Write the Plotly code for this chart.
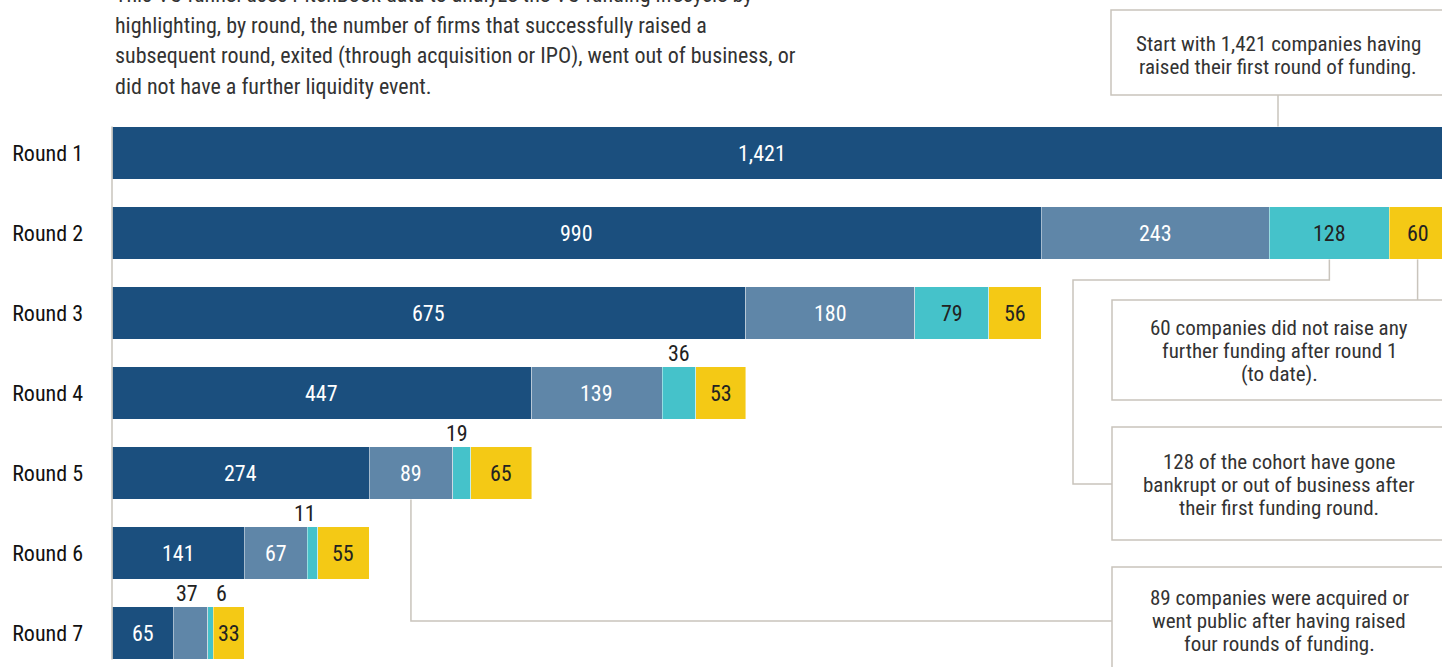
import plotly.graph_objects as go

# ---------------- data ----------------
rounds = ["Round 1", "Round 2", "Round 3", "Round 4", "Round 5", "Round 6", "Round 7"]
raised_next = [1421, 990, 675, 447, 274, 141, 65]
exited = [None, 243, 180, 139, 89, 67, 37]
out_of_business = [None, 128, 79, 36, 19, 11, 6]
no_further_event = [None, 60, 56, 53, 65, 55, 33]

title_lines = [
    "This VC funnel uses PitchBook data to analyze the VC funding lifecycle by",
    "highlighting, by round, the number of firms that successfully raised a",
    "subsequent round, exited (through acquisition or IPO), went out of business, or",
    "did not have a further liquidity event.",
]
callout_start = ["Start with 1,421 companies having", "raised their first round of funding."]
callout_60 = ["60 companies did not raise any", "further funding after round 1", "(to date)."]
callout_128 = ["128 of the cohort have gone", "bankrupt or out of business after", "their first funding round."]
callout_89 = ["89 companies were acquired or", "went public after having raised", "four rounds of funding."]

# ---------------- style / layout ----------------
W, H = 1442, 667
ML, MT = 112, 126
PW, PH = W - ML, H - MT
XMAX = 1417
Y_TOP, Y_BOT = -0.3375, 6.425
BAR_W = 0.66

FONT = "Liberation Sans Narrow, Roboto Condensed, DejaVu Sans Condensed, Arial Narrow, sans-serif"
C_DARK = "#1b4f7e"
C_STEEL = "#5f86a8"
C_TEAL = "#45c2ca"
C_YEL = "#f4c915"
C_LINE = "#c9c4bc"
C_TEXT = "#222222"

series = [
    ("raised", raised_next, C_DARK, "white"),
    ("exited", exited, C_STEEL, "white"),
    ("out", out_of_business, C_TEAL, C_TEXT),
    ("none", no_further_event, C_YEL, C_TEXT),
]
above = {(3, "out"): 0, (4, "out"): -5, (5, "out"): -7, (6, "exited"): -3, (6, "out"): 11}
inside_shift = {(0, "raised"): -17}

def px_x(px):
    return (px - ML) / PW

def px_y(py):
    return (H - py) / PH

def dx(v):
    return v / XMAX

def dy(v):
    return (Y_BOT - v) / (Y_BOT - Y_TOP)

ypos = list(range(len(rounds)))

fig = go.Figure()
for name, vals, col, tcol in series:
    fig.add_trace(go.Bar(
        y=ypos, x=[v if v else 0 for v in vals], orientation="h",
        marker=dict(color=col, line=dict(color="rgba(255,255,255,0.55)", width=0.8)),
        width=BAR_W, name=name, showlegend=False, hoverinfo="skip",
    ))

annotations = []
# value labels
cum = [0] * len(rounds)
for name, vals, col, tcol in series:
    for i, v in enumerate(vals):
        if not v:
            continue
        xc = cum[i] + v / 2
        cum[i] += v
        if (i, name) in above:
            annotations.append(dict(
                x=xc, y=i - BAR_W / 2, xref="x", yref="y", text=f"{v:,}",
                showarrow=False, yanchor="bottom", xanchor="center",
                xshift=above[(i, name)], yshift=-1,
                font=dict(family=FONT, size=22, color=C_TEXT)))
        else:
            annotations.append(dict(
                x=xc, y=i, xref="x", yref="y", text=f"{v:,}",
                showarrow=False, xanchor="center", yanchor="middle",
                xshift=inside_shift.get((i, name), 0),
                font=dict(family=FONT, size=22, color=tcol)))

# intro text, one line each (line pitch 31 px, last line centred at 87 px)
n = len(title_lines)
for k, t in enumerate(title_lines):
    cy = 87 - (n - 1 - k) * 31
    annotations.append(dict(
        x=px_x(113), y=px_y(cy), xref="paper", yref="paper",
        text=t, showarrow=False, align="left", xanchor="left", yanchor="middle",
        font=dict(family=FONT, size=22, color="#333333")))

shapes = []
line = dict(color=C_LINE, width=1.5)

# y axis line
shapes.append(dict(type="line", xref="paper", yref="paper",
                   x0=0, x1=0, y0=dy(0 - BAR_W / 2), y1=dy(6 + BAR_W / 2), line=line))

boxes = [
    (1111, 10, 95, 55.5, callout_start),
    (1112, 300, 400, 351, callout_60),
    (1112, 427, 540, 485, callout_128),
    (1112, 567, 690, 621, callout_89),
]
BOX_W = 334
PITCH = 23
for left, top, bot, tcy, lines in boxes:
    shapes.append(dict(type="rect", xref="paper", yref="paper",
                       x0=px_x(left), x1=px_x(left + BOX_W), y0=px_y(bot), y1=px_y(top),
                       line=line, fillcolor="rgba(0,0,0,0)", layer="above"))
    m = len(lines)
    for k, t in enumerate(lines):
        cy = tcy + (k - (m - 1) / 2) * PITCH
        annotations.append(dict(
            x=px_x(left + BOX_W / 2), y=px_y(cy), xref="paper", yref="paper",
            text=t, showarrow=False, align="center", xanchor="center", yanchor="middle",
            font=dict(family=FONT, size=21, color="#333333")))

# connectors
bx = px_x(1111 + BOX_W / 2)
shapes.append(dict(type="line", xref="paper", yref="paper",
                   x0=bx, x1=bx, y0=px_y(95), y1=dy(0 - BAR_W / 2), line=line))
x60 = dx(raised_next[1] + exited[1] + out_of_business[1] + no_further_event[1] / 2)
shapes.append(dict(type="line", xref="paper", yref="paper",
                   x0=x60, x1=x60, y0=dy(1 + BAR_W / 2), y1=px_y(300), line=line))
x128 = dx(raised_next[1] + exited[1] + out_of_business[1] / 2)
yb = dy(1 + BAR_W / 2)
p = (f"M {x128} {yb} L {x128} {px_y(280)} L {px_x(1073)} {px_y(280)} "
     f"L {px_x(1073)} {px_y(484)} L {px_x(1112)} {px_y(484)}")
shapes.append(dict(type="path", xref="paper", yref="paper", path=p, line=line))
x89 = dx(raised_next[4] + exited[4] / 2)
yb4 = dy(4 + BAR_W / 2)
p = f"M {x89} {yb4} L {x89} {px_y(621)} L {px_x(1112)} {px_y(621)}"
shapes.append(dict(type="path", xref="paper", yref="paper", path=p, line=line))

fig.update_layout(
    width=W, height=H, barmode="stack",
    margin=dict(l=ML, r=0, t=MT, b=0, pad=0),
    paper_bgcolor="white", plot_bgcolor="white",
    xaxis=dict(range=[0, XMAX], visible=False, fixedrange=True),
    yaxis=dict(range=[Y_BOT, Y_TOP], tickmode="array", tickvals=ypos, ticktext=rounds,
               showgrid=False, zeroline=False, showline=False, ticks="",
               ticklabelstandoff=28,
               tickfont=dict(family=FONT, size=22, color="#111111")),
    annotations=annotations, shapes=shapes,
)

fig.write_html("out.html")
